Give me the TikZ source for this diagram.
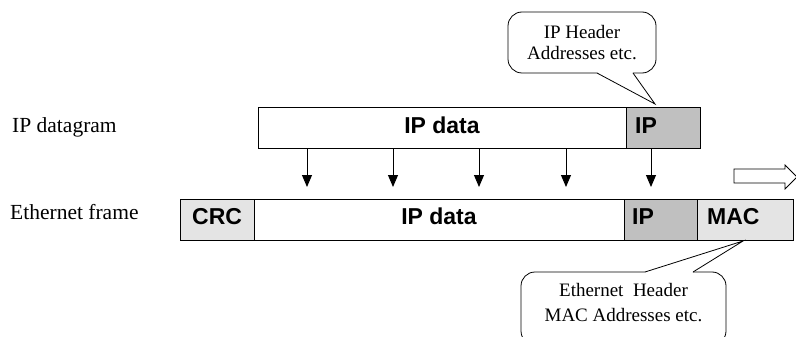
\documentclass[tikz,border=0pt]{standalone}
\usepackage{fontspec}
\setmainfont{Liberation Serif}
\newfontfamily\barfont{Liberation Sans}
\usetikzlibrary{arrows.meta}
\definecolor{ipgray}{RGB}{192,192,192}
\definecolor{lightg}{RGB}{228,228,228}
\begin{document}
\begin{tikzpicture}[x=1pt,y=-1pt,
  seg/.style={draw=black, line width=0.8pt, inner sep=0pt, anchor=north west, minimum height=40.5pt},
  boldtxt/.style={font=\barfont\bfseries\fontsize{23}{26}\selectfont, inner sep=0pt},
  lbl/.style={font=\fontsize{21.5}{24}\selectfont, inner sep=0pt, anchor=base west},
  call/.style={draw=black, line width=0.8pt, fill=white, rounded corners=14pt, inner sep=0pt},
  calltxt/.style={align=center, inner sep=0pt},
  tail/.style={draw=black, line width=0.8pt},
  arr/.style={line width=0.9pt, -{Triangle[width=10pt,length=12pt]}},
  hollow/.style={draw=black, line width=0.8pt, fill=white}]
\useasboundingbox (0,0) rectangle (796,337);

% IP datagram bar
\node[seg, minimum width=368pt, fill=white] (dgdata) at (258,107) {};
\node[seg, minimum width=74pt, fill=ipgray] (dgip) at (626,107) {};
\node[boldtxt, anchor=base] (t1) at (442,133) {IP data};
\node[boldtxt, anchor=base west] (t2) at (635,133) {IP};

% Ethernet frame bar
\node[seg, minimum width=74pt, fill=lightg] (crc) at (180,199) {};
\node[seg, minimum width=370pt, fill=white] (fdata) at (254,199) {};
\node[seg, minimum width=73pt, fill=ipgray] (fip) at (624,199) {};
\node[seg, minimum width=96pt, fill=lightg] (fmac) at (697,199) {};
\node[boldtxt, anchor=base west] (t3) at (192,224) {CRC};
\node[boldtxt, anchor=base] (t4) at (439,224) {IP data};
\node[boldtxt, anchor=base west] (t5) at (632,224) {IP};
\node[boldtxt, anchor=base west] (t6) at (707,224) {MAC};

% labels
\node[lbl] (l1) at (12,132) {IP datagram};
\node[lbl] (l2) at (10,219) {Ethernet frame};

% arrows
\foreach \i/\x in {1/307,2/393,3/479,4/566,5/651} {
  \coordinate (e\i) at (\x,187);
  \draw[arr] (dgdata.south -| e\i) -- (e\i);
}

% hollow arrow
\draw[hollow] (734,169) -- (785,169) -- (785,165) -- (797,177) -- (785,189) -- (785,183) -- (734,183) -- cycle;

% top callout
\node[call, minimum width=148pt, minimum height=61pt] (c1) at (582,42.5) {};
\node[calltxt, font=\fontsize{19}{21.5}\selectfont] (c1t) at (582,42.5) {IP Header\\Addresses etc.};
\fill[white] (598,71.3) -- (632,71.3) -- (633,73) -- (655,104) -- (597,73) -- cycle;
\draw[tail] (597,73) -- (655,104) -- (633,73);

% bottom callout
\node[call, minimum width=205pt, minimum height=73pt] (c2) at (623.5,308.5) {};
\node[calltxt, font=\fontsize{19}{25}\selectfont] (c2t) at (623.5,302.5) {Ethernet\ \ Header\\MAC Addresses etc.};
\fill[white] (646,273.7) -- (692,273.7) -- (693,272) -- (743,241) -- (645,272) -- cycle;
\draw[tail] (645,272) -- (743,241) -- (693,272);
\end{tikzpicture}
\end{document}
